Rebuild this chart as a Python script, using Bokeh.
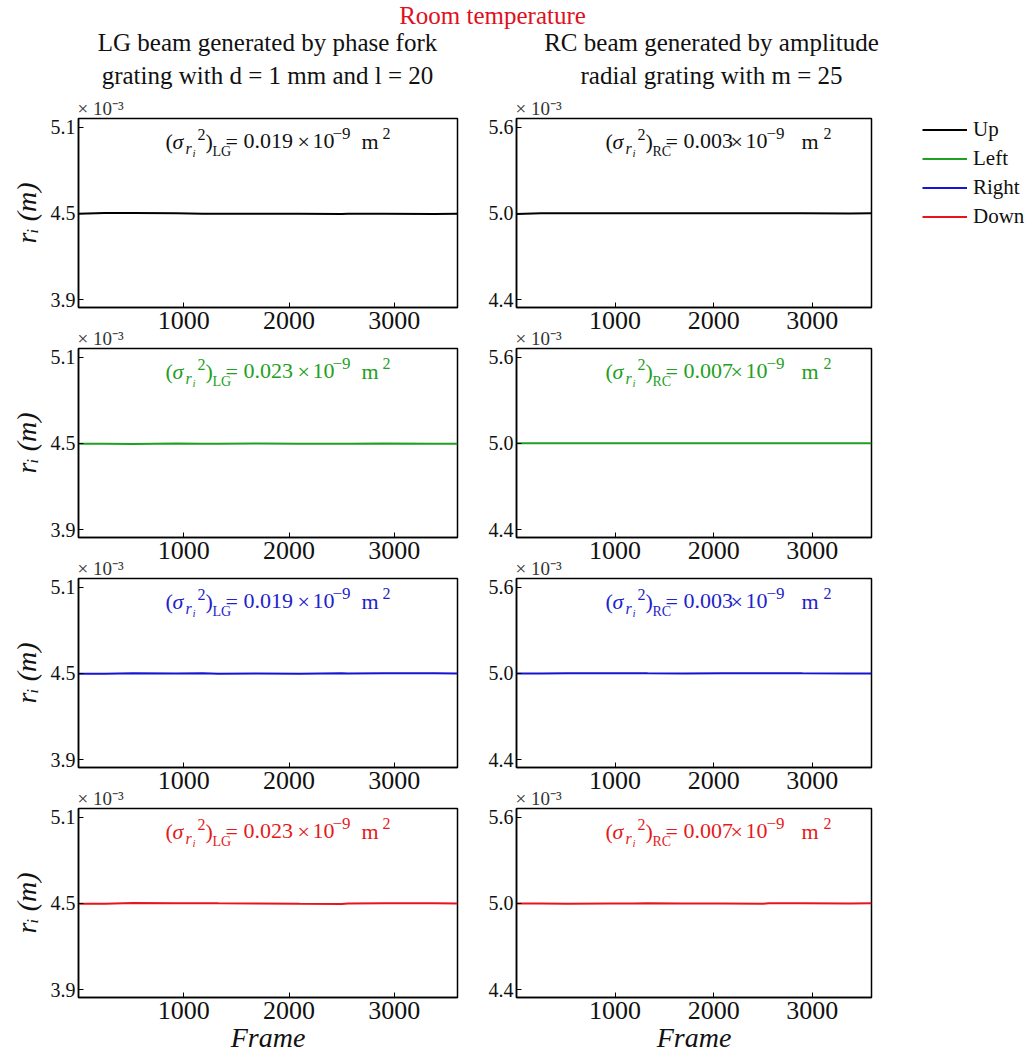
from bokeh.plotting import figure
from bokeh.models import Range1d, Label, FixedTicker, NumeralTickFormatter, Legend, LegendItem, Title
from bokeh.layouts import column, row
from bokeh.embed import file_html
from bokeh.resources import INLINE

FONT = "Liberation Serif"

# ---------------- data (radius in units of 1e-3 m) ----------------
frames = [1, 250, 520, 930, 1180, 1330, 1700, 2100, 2500, 2560, 2900, 3380, 3600]

lg_up    = [4.497, 4.502, 4.502, 4.501, 4.497, 4.498, 4.498, 4.498, 4.496, 4.497, 4.498, 4.496, 4.498]
lg_left  = [4.497, 4.498, 4.496, 4.499, 4.498, 4.497, 4.499, 4.498, 4.497, 4.498, 4.499, 4.497, 4.498]
lg_right = [4.498, 4.497, 4.501, 4.499, 4.500, 4.498, 4.499, 4.498, 4.500, 4.499, 4.500, 4.501, 4.499]
lg_down  = [4.498, 4.497, 4.502, 4.501, 4.501, 4.500, 4.499, 4.497, 4.496, 4.499, 4.500, 4.501, 4.499]

rc_up    = [4.995, 5.000, 5.000, 5.000, 5.000, 5.000, 5.000, 5.000, 5.000, 5.000, 5.000, 4.999, 5.000]
rc_left  = [5.000, 5.001, 5.001, 5.000, 5.001, 5.000, 5.001, 5.000, 5.000, 5.001, 5.000, 5.001, 5.000]
rc_right = [4.999, 4.999, 5.000, 5.000, 5.001, 5.000, 4.999, 5.000, 5.000, 5.001, 5.000, 4.999, 4.999]
rc_down  = [4.999, 4.999, 4.998, 4.999, 4.999, 5.000, 4.999, 4.999, 4.998, 5.000, 5.001, 4.999, 5.000]

series_names = ["Up", "Left", "Right", "Down"]
series_colors = ["#000000", "#20a020", "#1414d2", "#e8141c"]
text_colors = ["#111111", "#22a022", "#2222cc", "#e41a1c"]
lg_series = [lg_up, lg_left, lg_right, lg_down]
rc_series = [rc_up, rc_left, rc_right, rc_down]
lg_var = ["0.019", "0.023", "0.019", "0.023"]
rc_var = ["0.003", "0.007", "0.003", "0.007"]

lg_ticks = [3.9, 4.5, 5.1]
rc_ticks = [4.4, 5.0, 5.6]
x_ticks = [1000, 2000, 3000]

title_text = "Room temperature"
lg_title = ["LG beam generated by phase fork", "grating with d = 1 mm and l = 20"]
rc_title = ["RC beam generated by amplitude", "radial grating with m = 25"]
exp_text = "× 10⁻³"

TOP = 22
HEADER_H = 117 - TOP
FRAME_H = 189
BOTTOM = 40
BOTTOM_LAST = 59
OVERLAP = TOP + BOTTOM + FRAME_H - 229
LEFT_W = (78, 379, 19)     # left border, frame, right border
RIGHT_W = (40, 355, 33)
LEGEND_W = 1036 - sum(LEFT_W) - sum(RIGHT_W)
LEG_X = 922 - sum(LEFT_W) - sum(RIGHT_W)
BASE_FIX = 0.32            # alphabetic-baseline correction, in em

# ---------------- header ----------------
head = figure(width=1036, height=HEADER_H, x_range=Range1d(0, 1036), y_range=Range1d(HEADER_H, 0),
              x_axis_location=None, y_axis_location=None, title=None,
              output_backend="svg", toolbar_location=None, min_border=0)
head.grid.visible = False
head.outline_line_color = None
head.add_layout(Label(x=492, y=23 - BASE_FIX * 25, text=title_text, text_font=FONT, text_font_size="25px",
                      text_color="#e01020", text_align="center", text_baseline="alphabetic"))
for cx, lines in ((267, lg_title), (711, rc_title)):
    for ly, t in zip((50, 83), lines):
        head.add_layout(Label(x=cx, y=ly - BASE_FIX * 25, text=t, text_font=FONT, text_font_size="25px",
                              text_color="#111111", text_align="center", text_baseline="alphabetic"))


def make_panel(col, r):
    left = col == 0
    bl, fw, br = LEFT_W if left else RIGHT_W
    yr = (3.845, 5.16) if left else (4.345, 5.66)
    last = r == 3
    p = figure(frame_width=fw, frame_height=FRAME_H,
               x_range=Range1d(1, 3600), y_range=Range1d(*yr), title=None,
               output_backend="svg", toolbar_location=None,
               min_border_left=bl, min_border_right=br,
               min_border_top=TOP, min_border_bottom=BOTTOM_LAST if last else BOTTOM)
    p.grid.visible = False
    p.outline_line_color = "black"
    p.outline_line_width = 1.5
    p.background_fill_color = "white"
    p.border_fill_alpha = 0

    xa = p.below[0]
    ya = p.left[0]

    ser = lg_series if left else rc_series
    p.line(frames, ser[r], color=series_colors[r], line_width=2)

    xa.ticker = FixedTicker(ticks=x_ticks)
    xa.major_tick_in = 5
    xa.major_tick_out = 0
    xa.minor_tick_line_color = None
    xa.major_label_text_font = FONT
    xa.major_label_text_font_size = "26px"
    xa.major_label_text_color = "#111111"
    xa.major_label_standoff = 4
    xa.axis_line_color = "black"
    xa.axis_line_width = 1.5
    if last:
        xa.axis_label = "Frame"
        xa.axis_label_text_font = FONT
        xa.axis_label_text_font_style = "italic"
        xa.axis_label_text_font_size = "28px"
        xa.axis_label_text_color = "#111111"
        xa.axis_label_standoff = 0

    ya.ticker = FixedTicker(ticks=lg_ticks if left else rc_ticks)
    ya.formatter = NumeralTickFormatter(format="0.0")
    ya.major_tick_in = 5
    ya.major_tick_out = 0
    ya.minor_tick_line_color = None
    ya.major_label_text_font = FONT
    ya.major_label_text_font_size = "20px"
    ya.major_label_text_color = "#111111"
    ya.major_label_standoff = 3
    ya.axis_line_color = "black"
    ya.axis_line_width = 1.5
    if left:
        ya.axis_label = "rᵢ (m)"
        ya.axis_label_text_font = FONT
        ya.axis_label_text_font_style = "italic"
        ya.axis_label_text_font_size = "28px"
        ya.axis_label_text_color = "#111111"
        ya.axis_label_standoff = 6

    p.add_layout(Title(text=exp_text, align="left", offset=-1, standoff=0,
                       text_font=FONT, text_font_size="19px", text_font_style="normal",
                       text_color="#333333"), "above")

    # variance annotation (pieces: text, dx, dy(down), size, style)
    v = (lg_var if left else rc_var)[r]
    sub = "LG" if left else "RC"
    if left:
        tail = [(v, 78, 0, 22, "normal"), ("×", 132, 0, 22, "normal"), ("10", 147, 0, 22, "normal"),
                ("−9", 167, -10, 17, "normal"), ("m", 196, 0, 22, "normal"), ("2", 217, -10, 16, "normal")]
    else:
        tail = [(v, 78, 0, 22, "normal"), ("×", 125, 0, 22, "normal"), ("10", 140, 0, 22, "normal"),
                ("−9", 161, -10, 17, "normal"), ("m", 196, 0, 22, "normal"), ("2", 218, -10, 16, "normal")]
    head_items = [("(", 0, 0, 22, "normal"), ("σ", 7, 0, 22, "italic"), ("r", 20, 5, 16, "italic"),
                  ("i", 27, 8, 11, "italic"), ("2", 32, -9, 16, "normal"), (")", 40, 0, 22, "normal"),
                  (sub, 47, 7, 14, "normal"), ("=", 60, 0, 22, "normal")]
    dx0 = 87 if left else 89
    for txt, dx, dy, size, style in head_items + tail:
        p.add_layout(Label(x=1, y=yr[1], x_offset=dx0 + dx,
                           y_offset=-(30 + dy - BASE_FIX * size), text=txt,
                           text_font=FONT, text_font_size=f"{size}px", text_font_style=style,
                           text_color=text_colors[r], text_baseline="alphabetic", text_align="left"))
    return p


def make_legend_fig():
    h = TOP + FRAME_H + BOTTOM
    lf = figure(width=LEGEND_W, height=h, x_range=Range1d(0, 1), y_range=Range1d(0, 1),
                x_axis_location=None, y_axis_location=None, title=None,
                output_backend="svg", toolbar_location=None, min_border=0)
    lf.grid.visible = False
    lf.outline_line_color = None
    lf.border_fill_alpha = 0
    lf.background_fill_alpha = 0
    items = []
    for name, c, ser in zip(series_names, series_colors, lg_series):
        rr = lf.line(frames, ser, color=c, line_width=2)   # lies outside this frame; only its legend shows
        items.append(LegendItem(label=name, renderers=[rr]))
    item_h, gap = 25, 4
    leg_h = 4 * item_h + 3 * gap
    # this frame is aligned with the panels' frames; the legend starts at the frame's top edge
    leg = Legend(items=items, location=(LEG_X, FRAME_H - leg_h), padding=0, margin=0,
                 spacing=gap, glyph_height=item_h, label_height=item_h, glyph_width=45, label_standoff=6,
                 label_text_font=FONT, label_text_font_size="21px", label_text_color="#111111",
                 border_line_alpha=0, background_fill_alpha=0)
    lf.add_layout(leg)
    return lf


rows = [head]
for r in range(4):
    kids = [make_panel(0, r), make_panel(1, r)]
    if r == 0:
        kids.append(make_legend_fig())
        rows.append(row(*kids))
    else:
        rows.append(row(*kids, margin=(-OVERLAP, 0, 0, 0)))

layout = column(*rows)
open("out.html", "w").write(file_html(layout, INLINE))
